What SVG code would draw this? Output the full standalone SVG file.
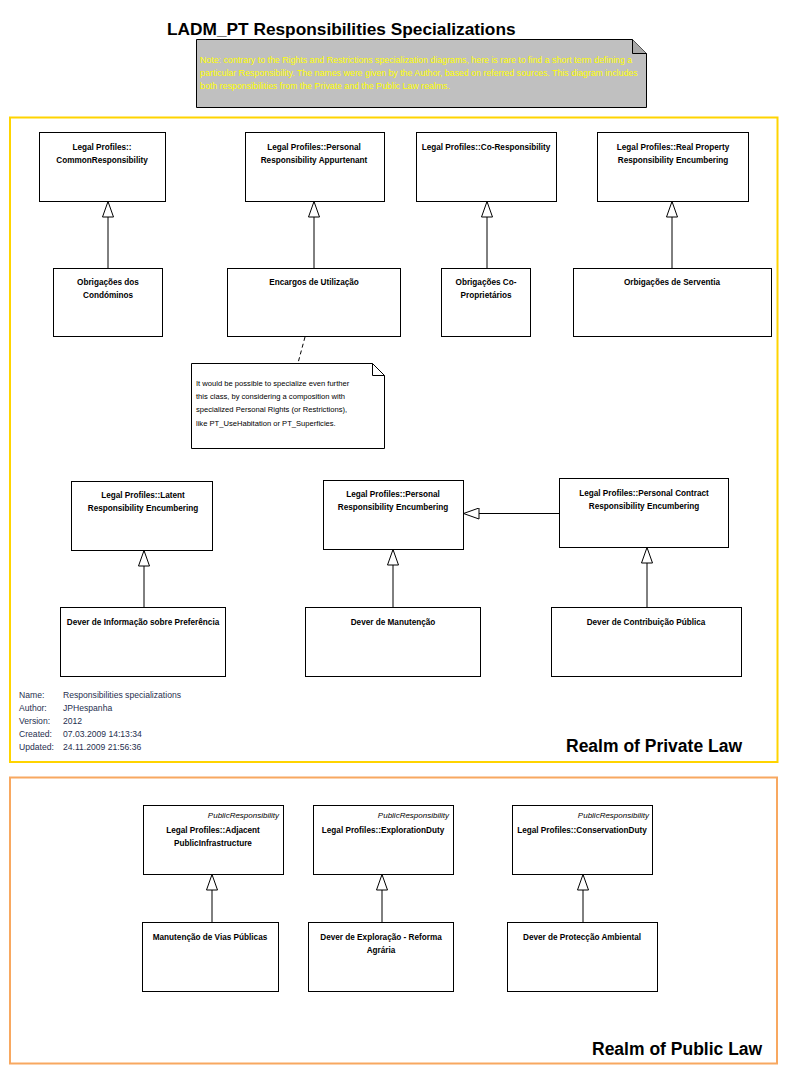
<svg xmlns="http://www.w3.org/2000/svg" width="789" height="1075" viewBox="0 0 789 1075">
<style>
.bg{fill:#ffffff}
.box{fill:#ffffff;stroke:#000000;stroke-width:1}
.t{font-family:"Liberation Sans",Arial,sans-serif;font-size:8.2px;font-weight:bold;fill:#000000;text-anchor:middle}
.st{font-family:"Liberation Sans",Arial,sans-serif;font-size:8px;font-style:italic;fill:#000000;text-anchor:end}
.nt{font-family:"Liberation Sans",Arial,sans-serif;font-size:7.6px;fill:#000000}
.yt{font-family:"Liberation Sans",Arial,sans-serif;font-size:8.8px;fill:#ffff00}
.meta{font-family:"Liberation Sans",Arial,sans-serif;font-size:8.6px;fill:#1f2f4f}
.title{font-family:"Liberation Sans",Arial,sans-serif;font-size:17.3px;font-weight:bold;fill:#000000}
.realm{font-family:"Liberation Sans",Arial,sans-serif;font-size:17.5px;font-weight:bold;fill:#000000}
.gen{stroke:#000000;stroke-width:1;fill:none;marker-end:url(#tri)}
</style>
<defs>
<marker id="tri" markerUnits="userSpaceOnUse" viewBox="0 0 16 12" refX="16" refY="6" markerWidth="16" markerHeight="12" orient="auto">
<path d="M0.5,0.5 L16,6 L0.5,11.5 Z" fill="#ffffff" stroke="#000000" stroke-width="1"/>
</marker>
</defs>
<rect class="bg" x="0" y="0" width="789" height="1075"/>

<text class="title" x="167" y="35">LADM_PT Responsibilities Specializations</text>

<g id="note-main">
<path d="M196.5,39.5 L632.5,39.5 L646.5,53.5 L646.5,107.5 L196.5,107.5 Z" fill="#c0c0c0" stroke="#000000"/>
<path d="M632.5,39.5 L632.5,53.5 L646.5,53.5" fill="#a8a8a8" stroke="#000000"/>
<text class="yt" x="200" y="63">Note: contrary to the Rights and Restrictions specialization diagrams, here is rare to find a short term defining a</text>
<text class="yt" x="200" y="76">particular Responsibility. The names were given by the Author, based on referred sources. This diagram includes</text>
<text class="yt" x="200" y="89">both responsibilities from the Private and the Public Law realms.</text>
</g>

<g id="frame-private">
<rect x="10" y="117.5" width="767.5" height="644.5" fill="none" stroke="#ffd400" stroke-width="2"/>
<text class="realm" x="566" y="752">Realm of Private Law</text>
</g>
<g id="frame-public">
<rect x="10" y="777.5" width="767" height="286" fill="none" stroke="#f8a860" stroke-width="2"/>
<text class="realm" x="592" y="1055">Realm of Public Law</text>
</g>

<g id="connectors">
<line class="gen" x1="108" y1="268" x2="108" y2="201.5"/>
<line class="gen" x1="314" y1="268" x2="314" y2="201.5"/>
<line class="gen" x1="487" y1="268" x2="487" y2="201.5"/>
<line class="gen" x1="672" y1="268" x2="672" y2="201.5"/>
<line x1="305" y1="337" x2="298" y2="363" stroke="#000000" stroke-dasharray="4,3"/>
<line class="gen" x1="144" y1="607" x2="144" y2="550.5"/>
<line class="gen" x1="393" y1="607" x2="393" y2="549.5"/>
<line class="gen" x1="647" y1="607" x2="647" y2="547.5"/>
<line class="gen" x1="559" y1="513.5" x2="463.5" y2="513.5"/>
<line class="gen" x1="212" y1="922" x2="212" y2="874.5"/>
<line class="gen" x1="382" y1="922" x2="382" y2="874.5"/>
<line class="gen" x1="583" y1="922" x2="583" y2="874.5"/>
</g>

<g id="CommonResponsibility">
<rect class="box" x="39.5" y="132.5" width="126" height="69"/>
<text class="t" x="102" y="150">Legal Profiles::</text>
<text class="t" x="102" y="163">CommonResponsibility</text>
</g>
<g id="ObrigacoesCondominos">
<rect class="box" x="53.5" y="268.5" width="109" height="68"/>
<text class="t" x="108" y="285">Obrigações dos</text>
<text class="t" x="108" y="298">Condóminos</text>
</g>
<g id="PersonalResponsibilityAppurtenant">
<rect class="box" x="245.5" y="132.5" width="139" height="69"/>
<text class="t" x="314" y="150">Legal Profiles::Personal</text>
<text class="t" x="314" y="163">Responsibility Appurtenant</text>
</g>
<g id="EncargosUtilizacao">
<rect class="box" x="227.5" y="268.5" width="173" height="68"/>
<text class="t" x="314" y="285">Encargos de Utilização</text>
</g>
<g id="CoResponsibility">
<rect class="box" x="416.5" y="132.5" width="140" height="69"/>
<text class="t" x="486" y="150">Legal Profiles::Co-Responsibility</text>
</g>
<g id="ObrigacoesCoProprietarios">
<rect class="box" x="441.5" y="268.5" width="89" height="68"/>
<text class="t" x="486" y="285">Obrigações Co-</text>
<text class="t" x="486" y="298">Proprietários</text>
</g>
<g id="RealPropertyResponsibilityEncumbering">
<rect class="box" x="597.5" y="132.5" width="151" height="69"/>
<text class="t" x="673" y="150">Legal Profiles::Real Property</text>
<text class="t" x="673" y="163">Responsibility Encumbering</text>
</g>
<g id="OrbigacoesServentia">
<rect class="box" x="573.5" y="268.5" width="198" height="68"/>
<text class="t" x="672" y="285">Orbigações de Serventia</text>
</g>

<g id="note-specialize">
<path d="M191.5,363.5 L372.5,363.5 L384.5,375.5 L384.5,448.5 L191.5,448.5 Z" fill="#ffffff" stroke="#000000"/>
<path d="M372.5,363.5 L372.5,375.5 L384.5,375.5" fill="none" stroke="#000000"/>
<text class="nt" x="196" y="386">It would be possible to specialize even further</text>
<text class="nt" x="196" y="399">this class, by considering a composition with</text>
<text class="nt" x="196" y="412">specialized Personal Rights (or Restrictions),</text>
<text class="nt" x="196" y="426">like PT_UseHabitation or PT_Superficies.</text>
</g>

<g id="LatentResponsibilityEncumbering">
<rect class="box" x="71.5" y="481.5" width="141" height="69"/>
<text class="t" x="143" y="498">Legal Profiles::Latent</text>
<text class="t" x="143" y="511">Responsibility Encumbering</text>
</g>
<g id="DeverInformacao">
<rect class="box" x="60.5" y="607.5" width="165" height="69"/>
<text class="t" x="143" y="625">Dever de Informação sobre Preferência</text>
</g>
<g id="PersonalResponsibilityEncumbering">
<rect class="box" x="323.5" y="480.5" width="140" height="69"/>
<text class="t" x="393" y="497">Legal Profiles::Personal</text>
<text class="t" x="393" y="510">Responsibility Encumbering</text>
</g>
<g id="DeverManutencao">
<rect class="box" x="305.5" y="607.5" width="175" height="69"/>
<text class="t" x="393" y="625">Dever de Manutenção</text>
</g>
<g id="PersonalContractResponsibilityEncumbering">
<rect class="box" x="559.5" y="478.5" width="169" height="69"/>
<text class="t" x="644" y="496">Legal Profiles::Personal Contract</text>
<text class="t" x="644" y="509">Responsibility Encumbering</text>
</g>
<g id="DeverContribuicaoPublica">
<rect class="box" x="551.5" y="607.5" width="190" height="69"/>
<text class="t" x="646" y="625">Dever de Contribuição Pública</text>
</g>

<g id="metadata">
<text class="meta" x="19" y="698">Name:</text><text class="meta" x="63" y="698">Responsibilities specializations</text>
<text class="meta" x="19" y="711">Author:</text><text class="meta" x="63" y="711">JPHespanha</text>
<text class="meta" x="19" y="724">Version:</text><text class="meta" x="63" y="724">2012</text>
<text class="meta" x="19" y="737">Created:</text><text class="meta" x="63" y="737">07.03.2009 14:13:34</text>
<text class="meta" x="19" y="750">Updated:</text><text class="meta" x="63" y="750">24.11.2009 21:56:36</text>
</g>

<g id="AdjacentPublicInfrastructure">
<rect class="box" x="143.5" y="805.5" width="140" height="69"/>
<text class="st" x="279" y="818">PublicResponsibility</text>
<text class="t" x="213" y="833">Legal Profiles::Adjacent</text>
<text class="t" x="213" y="846">PublicInfrastructure</text>
</g>
<g id="ManutencaoViasPublicas">
<rect class="box" x="142.5" y="922.5" width="136" height="69"/>
<text class="t" x="210" y="940">Manutenção de Vias Públicas</text>
</g>
<g id="ExplorationDuty">
<rect class="box" x="313.5" y="805.5" width="140" height="69"/>
<text class="st" x="449" y="818">PublicResponsibility</text>
<text class="t" x="383" y="833">Legal Profiles::ExplorationDuty</text>
</g>
<g id="DeverExploracao">
<rect class="box" x="308.5" y="922.5" width="145" height="69"/>
<text class="t" x="381" y="940">Dever de Exploração - Reforma</text>
<text class="t" x="381" y="953">Agrária</text>
</g>
<g id="ConservationDuty">
<rect class="box" x="512.5" y="805.5" width="140" height="69"/>
<text class="st" x="649" y="818">PublicResponsibility</text>
<text class="t" x="582" y="833">Legal Profiles::ConservationDuty</text>
</g>
<g id="DeverProteccaoAmbiental">
<rect class="box" x="507.5" y="922.5" width="150" height="69"/>
<text class="t" x="582" y="940">Dever de Protecção Ambiental</text>
</g>
</svg>
